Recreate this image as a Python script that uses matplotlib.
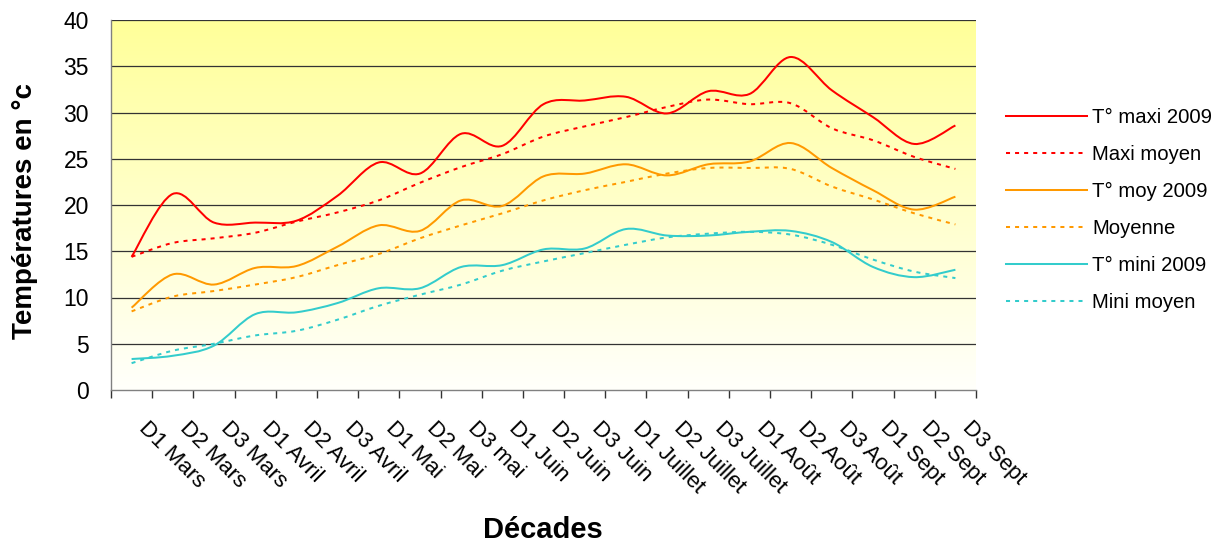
import numpy as np
import matplotlib
matplotlib.use("Agg")
import matplotlib.pyplot as plt
from matplotlib.path import Path
from matplotlib.patches import PathPatch
from matplotlib.lines import Line2D
from matplotlib.transforms import ScaledTranslation

plt.rcParams['font.family'] = ['Liberation Sans', 'DejaVu Sans']

decades = ["D1 Mars", "D2 Mars", "D3 Mars", "D1 Avril", "D2 Avril", "D3 Avril",
           "D1 Mai", "D2 Mai", "D3 mai", "D1 Juin", "D2 Juin", "D3 Juin",
           "D1 Juillet", "D2 Juillet", "D3 Juillet", "D1 Août", "D2 Août", "D3 Août",
           "D1 Sept", "D2 Sept", "D3 Sept"]

tmax_2009 = [14.4, 21.2, 18.1, 18.1, 18.3, 21.0, 24.6, 23.4, 27.7, 26.4, 30.9,
             31.3, 31.7, 29.9, 32.3, 32.0, 36.0, 32.4, 29.5, 26.6, 28.6]
tmax_avg = [14.4, 15.9, 16.4, 17.0, 18.2, 19.2, 20.5, 22.4, 24.1, 25.5, 27.4,
            28.5, 29.5, 30.6, 31.4, 30.9, 31.0, 28.3, 27.0, 25.2, 23.9]
tmoy_2009 = [8.9, 12.5, 11.4, 13.2, 13.4, 15.5, 17.8, 17.2, 20.5, 19.9, 23.1,
             23.4, 24.4, 23.2, 24.4, 24.7, 26.7, 24.0, 21.6, 19.5, 20.9]
tmoy_avg = [8.5, 10.1, 10.7, 11.4, 12.2, 13.5, 14.7, 16.4, 17.8, 19.1, 20.5,
            21.6, 22.5, 23.4, 24.0, 24.0, 23.9, 22.0, 20.6, 19.1, 17.9]
tmin_2009 = [3.35, 3.7, 4.8, 8.2, 8.4, 9.4, 11.0, 11.0, 13.3, 13.5, 15.2,
             15.3, 17.4, 16.7, 16.7, 17.1, 17.2, 16.0, 13.3, 12.2, 13.0]
tmin_avg = [2.9, 4.25, 5.0, 5.9, 6.4, 7.6, 9.1, 10.3, 11.4, 12.9, 13.9,
            14.8, 15.7, 16.5, 16.9, 17.1, 16.8, 15.7, 14.1, 12.8, 12.1]

series = [
    ("T° maxi 2009", tmax_2009, "#FF0000", "solid"),
    ("Maxi moyen", tmax_avg, "#FF0000", "dotted"),
    ("T° moy 2009", tmoy_2009, "#FF9900", "solid"),
    ("Moyenne", tmoy_avg, "#FF9900", "dotted"),
    ("T° mini 2009", tmin_2009, "#33CCCC", "solid"),
    ("Mini moyen", tmin_avg, "#33CCCC", "dotted"),
]

LW = 1.45
DOT = (0, (2.0, 2.5))


def smooth_path(xs, ys):
    """Cubic Bezier path through the points (Catmull-Rom style tangents)."""
    pts = np.column_stack([xs, ys]).astype(float)
    n = len(pts)
    verts = [pts[0]]
    codes = [Path.MOVETO]
    for i in range(n - 1):
        p0 = pts[i - 1] if i > 0 else pts[i]
        p1 = pts[i]
        p2 = pts[i + 1]
        p3 = pts[i + 2] if i + 2 < n else pts[i + 1]
        c1 = p1 + (p2 - p0) / 6.0
        c2 = p2 - (p3 - p1) / 6.0
        verts += [c1, c2, p2]
        codes += [Path.CURVE4] * 3
    return Path(verts, codes)


fig = plt.figure(figsize=(12.25, 5.45), dpi=100)
ax = fig.add_axes([111 / 1225, 155 / 545, 865 / 1225, 370 / 545])

x = np.arange(len(decades))
ax.set_xlim(-0.5, len(decades) - 0.5)
ax.set_ylim(0, 40)

# vertical yellow gradient background
grad = np.linspace(0, 1, 256)[:, None]
top = np.array([1.0, 1.0, 0.60])
bottom = np.array([1.0, 1.0, 0.985])
img = bottom + (top - bottom) * grad[:, :, None]
ax.imshow(img, extent=[-0.5, len(decades) - 0.5, 0, 40], origin="lower",
          aspect="auto", zorder=0, interpolation="bilinear")

for yv in range(5, 41, 5):
    ax.axhline(yv, color="#333333", lw=0.9, zorder=1)

for label, vals, color, style in series:
    ls = "-" if style == "solid" else DOT
    patch = PathPatch(smooth_path(x, vals), fill=False, edgecolor=color,
                      lw=LW, linestyle=ls, zorder=3, capstyle="butt")
    ax.add_patch(patch)

for s in ("top", "right"):
    ax.spines[s].set_visible(False)
for s in ("left", "bottom"):
    ax.spines[s].set_color("#808080")
    ax.spines[s].set_linewidth(1.0)

ax.set_yticks(range(0, 41, 5))
ax.tick_params(axis="y", length=0, pad=16, labelsize=16.5)

ax.set_xticks(x)
ax.set_xticklabels(decades, rotation=-45, ha="left", va="center",
                   rotation_mode="anchor", fontsize=16)
ax.set_xticks(np.arange(-0.5, len(decades), 1.0), minor=True)
ax.tick_params(axis="x", which="major", length=0, pad=25)
ax.tick_params(axis="x", which="minor", length=6, width=1.0, color="#333333",
               direction="out")
offset = ScaledTranslation(0.10, 0, fig.dpi_scale_trans)
for lab in ax.get_xticklabels():
    lab.set_transform(lab.get_transform() + offset)

ax.set_ylabel("Températures en °c", fontsize=20, fontweight="bold", va="center")
ax.yaxis.set_label_coords(-0.0994, 0.485)
fig.text(543 / 1225, 1 - 530 / 545, "Décades", fontsize=21,
         fontweight="bold", ha="center", va="center")

handles = [Line2D([], [], color=c, lw=LW, linestyle=("-" if st == "solid" else DOT))
           for _, _, c, st in series]
labels = [lab for lab, _, _, _ in series]
fig.legend(handles, labels, loc="upper left",
           bbox_to_anchor=(1006 / 1225, 1 - 108 / 545), frameon=False,
           fontsize=14.6, handlelength=4.0, handletextpad=0.25,
           labelspacing=0.89, borderpad=0, borderaxespad=0)

fig.savefig("out.png", dpi=100, facecolor="white")
